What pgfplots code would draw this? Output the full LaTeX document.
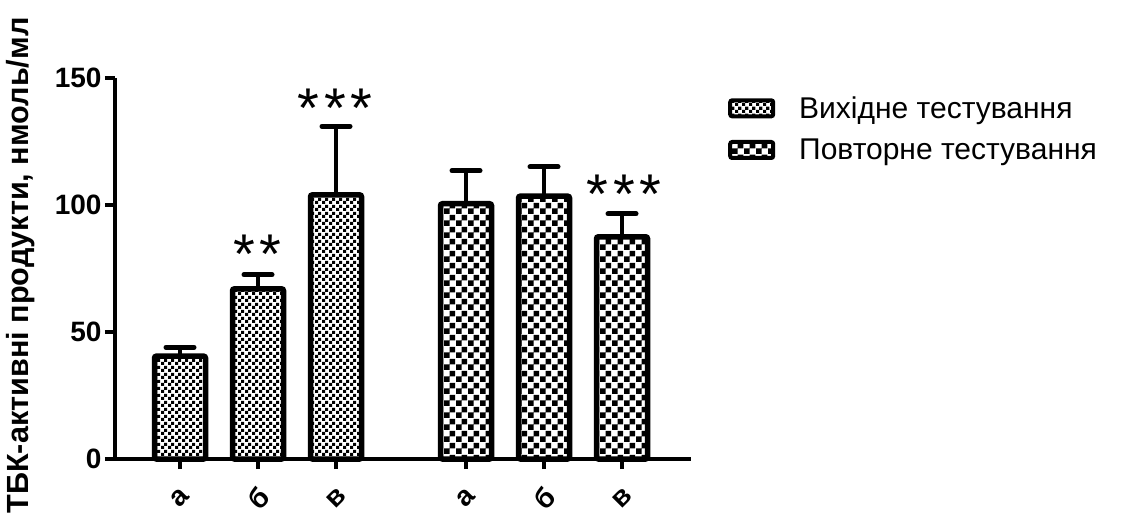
\documentclass[border=0pt]{standalone}
\usepackage{fontspec}
\setmainfont{Liberation Sans}
\usepackage{pgfplots}
\usepackage{pgfplotstable}
\pgfplotsset{compat=1.18}
\usetikzlibrary{patterns}
\pgfdeclarepatternformonly{finecheck}{\pgfqpoint{0bp}{0bp}}{\pgfqpoint{7bp}{7bp}}{\pgfqpoint{7bp}{7bp}}{%
 \pgfpathrectangle{\pgfqpoint{0bp}{0bp}}{\pgfqpoint{3.5bp}{3.5bp}}%
 \pgfpathrectangle{\pgfqpoint{3.5bp}{3.5bp}}{\pgfqpoint{3.5bp}{3.5bp}}%
 \pgfusepath{fill}}
\pgfdeclarepatternformonly{coarsecheck}{\pgfqpoint{0bp}{0bp}}{\pgfqpoint{12bp}{12bp}}{\pgfqpoint{12bp}{12bp}}{%
 \pgfpathrectangle{\pgfqpoint{0bp}{0bp}}{\pgfqpoint{6bp}{6bp}}%
 \pgfpathrectangle{\pgfqpoint{6bp}{6bp}}{\pgfqpoint{6bp}{6bp}}%
 \pgfusepath{fill}}
\pgfplotstableread{
x y e
180 40.5 3.5
258 67 5.5
336 104 27
}\first
\pgfplotstableread{
x y e
466 100.5 13
544 103.5 11.5
622 87.5 9
}\second
\begin{document}
\begin{tikzpicture}
\useasboundingbox (0,0) rectangle (1121bp,-526bp);
\begin{axis}[
  at={(115bp,-459bp)}, anchor=south west,
  scale only axis, width=576bp, height=381bp,
  xmin=115, xmax=691, ymin=0, ymax=150,
  axis x line*=bottom, axis y line*=left,
  axis line style={line width=3.5bp, -},
  ytick={0,50,100,150},
  xtick={180,258,336,466,544,622},
  xticklabels={а,б,в,а,б,в},
  tick style={line width=3.5bp, black},
  major tick length=10bp, tick align=outside,
  /pgf/number format/assume math mode=true,
  ticklabel style={font=\fontsize{28bp}{30bp}\selectfont\bfseries},
  x tick label style={rotate=45, anchor=center, xshift=-20.5bp, yshift=-20.5bp},
  ylabel={ТБК-активні продукти, нмоль/мл},
  ylabel style={at={(axis description cs:-0.151,0.508)}, anchor=base, font=\fontsize{30.6bp}{32bp}\selectfont\bfseries},
  clip=false,
  legend cell align=left,
  legend style={at={(axis cs:728,143.5)}, anchor=north west, draw=none, fill=none,
    inner sep=0pt, row sep=15bp, column sep=22bp, font=\fontsize{30bp}{34bp}\selectfont},
]
\addplot[ybar, bar width=51, bar shift=0pt, draw=black, line width=5.5bp, pattern=finecheck, rounded corners=2bp,
  legend image code/.code={\draw[pattern=finecheck, draw=black, line width=4bp, rounded corners=2bp] (0bp,-8bp) rectangle (43bp,8bp);},
  error bars/.cd, y dir=plus, y explicit,
  error bar style={line width=4bp, black},
  error mark=-, error mark options={rotate=90, mark size=14bp, line width=5bp, black, line cap=round}]
  table[x=x, y=y, y error=e]{\first};
\addlegendentry{Вихідне тестування}
\addplot[ybar, bar width=51, bar shift=0pt, draw=black, line width=5.5bp, pattern=coarsecheck, rounded corners=2bp,
  legend image code/.code={\draw[pattern=coarsecheck, draw=black, line width=4bp, rounded corners=2bp] (0bp,-8bp) rectangle (43bp,8bp);},
  error bars/.cd, y dir=plus, y explicit,
  error bar style={line width=4bp, black},
  error mark=-, error mark options={rotate=90, mark size=14bp, line width=5bp, black, line cap=round}]
  table[x=x, y=y, y error=e]{\second};
\addlegendentry{Повторне тестування}
\node[anchor=north, inner sep=0pt, font=\fontsize{56bp}{56bp}\selectfont] at (axis cs:335,145.7) {*\hspace{5bp}*\hspace{5bp}*};
\node[anchor=north, inner sep=0pt, font=\fontsize{56bp}{56bp}\selectfont] at (axis cs:257.5,88.2) {*\hspace{5bp}*};
\node[anchor=north, inner sep=0pt, font=\fontsize{56bp}{56bp}\selectfont] at (axis cs:624,111.8) {*\hspace{5bp}*\hspace{5bp}*};
\end{axis}
\end{tikzpicture}
\end{document}
